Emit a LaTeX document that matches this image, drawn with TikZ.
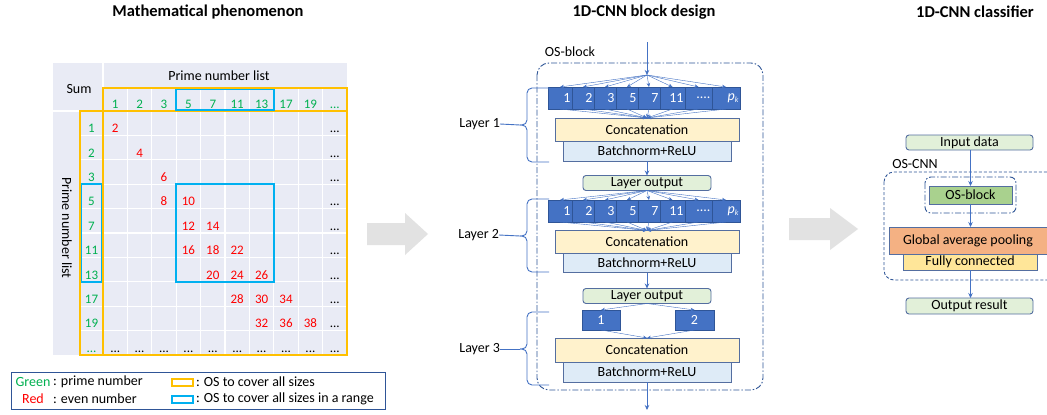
\documentclass[tikz,border=0pt]{standalone}
\usepackage{fontspec}
\setmainfont{Carlito}
\usetikzlibrary{arrows.meta}
\definecolor{tblbg}{RGB}{233,235,245}
\definecolor{pgreen}{RGB}{0,176,80}
\definecolor{pred}{RGB}{255,0,0}
\definecolor{osorange}{RGB}{255,192,0}
\definecolor{osblue}{RGB}{0,176,240}
\definecolor{convfill}{RGB}{68,114,196}
\definecolor{convdraw}{RGB}{47,85,151}
\definecolor{boxdraw}{RGB}{84,110,160}
\definecolor{concatfill}{RGB}{255,242,204}
\definecolor{bnfill}{RGB}{222,235,247}
\definecolor{outfill}{RGB}{226,240,217}
\definecolor{osfill}{RGB}{169,209,142}
\definecolor{gapfill}{RGB}{244,177,131}
\definecolor{fcfill}{RGB}{255,230,153}
\definecolor{framecol}{RGB}{47,85,151}
\definecolor{arrowgrey}{RGB}{226,226,226}
\definecolor{lineblue}{RGB}{68,114,196}
\newcommand{\fsA}{\fontsize{14}{16}\selectfont}
\newcommand{\fsT}{\fontsize{13}{15}\selectfont}
\newcommand{\fsH}{\fontsize{16.5}{19}\selectfont\bfseries}
\newcommand{\pk}{\textit{p}\raisebox{-0.35ex}{\fontsize{8}{9}\selectfont\textit{k}}}
\newcommand{\dotsA}{...}
\newcommand{\dotsB}{....}
\begin{document}
\begin{tikzpicture}[x=1pt,y=-1pt,
  every node/.style={inner sep=0pt, outer sep=0pt},
  body/.style={font=\fsA},
  title/.style={font=\fsH},
  tnum/.style={font=\fsT, text height=9pt, text depth=2.5pt},
  conv/.style={draw=convdraw, fill=convfill, line width=0.6pt, text=white, font=\fsA, align=right, inner xsep=1.5pt},
  cbox/.style={draw=boxdraw, line width=0.9pt, font=\fsA, align=center},
  obox/.style={cbox, rounded corners=3pt, fill=outfill},
  fan/.style={draw=lineblue, line width=0.4pt, -{Stealth[length=4pt,width=3.5pt]}},
  arr/.style={draw=lineblue, line width=0.7pt, -{Stealth[length=5pt,width=4.5pt]}},
  bracepath/.style={draw=lineblue, line width=0.9pt, rounded corners=5pt},
  dashdot/.style={draw=framecol, line width=0.9pt, dash pattern=on 6pt off 2pt on 1.5pt off 2pt},
]
\useasboundingbox (0,0) rectangle (1047,415);
\fill[white] (0,0) rectangle (1047,415);

% ---------- titles ----------
\node[title] (t1) at (208,12) {Mathematical phenomenon};
\node[title] (t2) at (644,12) {1D-CNN block design};
\node[title] (t3) at (975,12) {1D-CNN classifier};

% ---------- table ----------
\fill[tblbg] (53,63) rectangle (347,355);
\draw[white, line width=1.3pt] (53,111) -- (347,111);
\draw[white, line width=1.3pt] (103,63) -- (103,111);
\foreach \i in {1,2,3,4,5,6,7,8,9} {
  \draw[white, line width=1.3pt] ({103+24.4*\i},88) -- ({103+24.4*\i},355);
  \draw[white, line width=1.3pt] (80,{111+24.4*\i}) -- (347,{111+24.4*\i});
}
\node[body] (sum) at (79,89) {Sum};
\node[body] (pnl) at (219,76) {Prime number list};
\node[body, rotate=-90] (pnl2) at (67,228) {Prime number list};
\foreach \v [count=\i from 0] in {1,2,3,5,7,11,13,17,19,\dotsA} {
  \node[tnum, text=pgreen] (h\i) at ({115.2+24.4*\i},105) {\v};
  \node[tnum, text=pgreen] (r\i) at (91.5,{129.5+24.4*\i}) {\v};
}
\foreach \c/\r/\v in {0/0/2,1/1/4,2/2/6,2/3/8,3/3/10,3/4/12,4/4/14,3/5/16,4/5/18,5/5/22,4/6/20,5/6/24,6/6/26,5/7/28,6/7/30,7/7/34,6/8/32,7/8/36,8/8/38} {
  \node[tnum, text=pred] (s\c x\r) at ({115.2+24.4*\c},{129.5+24.4*\r}) {\v};
}
\foreach \r in {0,1,2,3,4,5,6,7,8} {
  \node[tnum] (d\r) at (334.8,{129.5+24.4*\r}) {\dotsA};
}
\foreach \c in {0,1,2,3,4,5,6,7,8,9} {
  \node[tnum] (e\c) at ({115.2+24.4*\c},349) {\dotsA};
}
% OS boxes
\draw[osorange, line width=1.6pt] (103,88) rectangle (347,355);
\draw[osorange, line width=1.6pt] (103,111) -- (347,111);
\draw[osorange, line width=1.6pt] (80,111) rectangle (103,355);
\draw[osblue, line width=1.6pt] (176.2,89.5) rectangle (273.8,110);
\draw[osblue, line width=1.6pt] (81.5,184.2) rectangle (101.5,281.8);
\draw[osblue, line width=1.6pt] (176.2,184.2) rectangle (273.8,281.8);

% legend
\draw[framecol, line width=0.8pt] (11,372) rectangle (385,409);
\node[body, text=pgreen] (lgG) at (33,382) {Green};
\node[body, anchor=west] (lgGt) at (53,382) {: prime number};
\node[body, text=pred] (lgR) at (33,399) {Red};
\node[body, anchor=west] (lgRt) at (53,399) {: even number};
\draw[osorange, line width=1.6pt] (172,379) rectangle (193,386);
\node[body, anchor=west] (lgO) at (196,382) {: OS to cover all sizes};
\draw[osblue, line width=1.6pt] (172,396) rectangle (193,403);
\node[body, anchor=west] (lgB) at (196,399) {: OS to cover all sizes in a range};

% ---------- grey arrows ----------
\fill[arrowgrey] (367,223) -- (405,223) -- (405,213) -- (428,234) -- (405,255) -- (405,245) -- (367,245) -- cycle;
\fill[arrowgrey] (789,218) -- (830,218) -- (830,208) -- (858,229) -- (830,250) -- (830,240) -- (789,240) -- cycle;

% ---------- OS-block design ----------
\draw[dashdot, rounded corners=12pt] (537,63) rectangle (763,390);
\node[body] (oslbl) at (570,52) {OS-block};

\coordinate (inTop) at (647,42);
\coordinate (inTip) at (647,75);
\coordinate (outEnd) at (647,410);

% layer 1 conv row
\foreach \l/\r/\t [count=\k] in {548/572/1,572/594/2,594/616/3,616/638/5,638/660/7,660/685/11,685/712/\dotsB,712/740/\pk} {
  \pgfmathsetmacro\tw{\r-\l-3}
  \node[conv, text width=\tw pt, minimum height=22pt] (a\k) at ({(\l+\r)/2},98) {\t};
}
\node[cbox, fill=concatfill, minimum width=184pt, minimum height=23pt] (cc1) at (647,129.5) {Concatenation};
\node[cbox, fill=bnfill, minimum width=168pt, minimum height=20pt] (bn1) at (647,151) {Batchnorm+ReLU};
\node[obox, minimum width=128pt, minimum height=15pt] (lo1) at (647,183) {Layer output};

% layer 2 conv row
\foreach \l/\r/\t [count=\k] in {548/572/1,572/594/2,594/616/3,616/638/5,638/660/7,660/685/11,685/712/\dotsB,712/740/\pk} {
  \pgfmathsetmacro\tw{\r-\l-3}
  \node[conv, text width=\tw pt, minimum height=22pt] (b\k) at ({(\l+\r)/2},211) {\t};
}
\node[cbox, fill=concatfill, minimum width=184pt, minimum height=23pt] (cc2) at (647,242) {Concatenation};
\node[cbox, fill=bnfill, minimum width=168pt, minimum height=19pt] (bn2) at (647,263) {Batchnorm+ReLU};
\node[obox, minimum width=128pt, minimum height=15pt] (lo2) at (647,296) {Layer output};

% layer 3
\node[conv, align=center, minimum width=38pt, minimum height=20pt] (c1) at (601,320) {1};
\node[conv, align=center, minimum width=39pt, minimum height=20pt] (c2) at (694.5,320) {2};
\node[cbox, fill=concatfill, minimum width=184pt, minimum height=24pt] (cc3) at (647,350) {Concatenation};
\node[cbox, fill=bnfill, minimum width=168pt, minimum height=20pt] (bn3) at (647,372) {Batchnorm+ReLU};

% arrows
\draw[arr] (inTop) -- (inTip);
\foreach \k in {1,2,3,4,5,6,7,8} {
  \draw[fan] (inTip) -- (a\k.north);
  \draw[fan] (a\k.south) -- (cc1.north);
  \draw[fan] (lo1.south) -- (b\k.north);
  \draw[fan] (b\k.south) -- (cc2.north);
}
\draw[arr] (bn1.south) -- (lo1.north);
\draw[arr] (bn2.south) -- (lo2.north);
\draw[fan] (lo2.south) -- (c1.north);
\draw[fan] (lo2.south) -- (c2.north);
\draw[fan] (c1.south) -- (cc3.north);
\draw[fan] (c2.south) -- (cc3.north);
\draw[arr] (bn3.south) -- (outEnd);

% braces and layer labels
\node[body, anchor=east] (L1) at (500,124) {Layer 1};
\coordinate (br1) at (520,125);
\draw[bracepath] (549,88) -- (527,88) -- (527,125) -- (br1);
\draw[bracepath] (br1) -- (527,125) -- (527,162) -- (549,162);
\draw[draw=lineblue, line width=0.9pt] (L1.east) -- (br1);

\node[body, anchor=east] (L2) at (499,235) {Layer 2};
\coordinate (br2) at (520,236);
\draw[bracepath] (549,199) -- (527,199) -- (527,236) -- (br2);
\draw[bracepath] (br2) -- (527,236) -- (527,272) -- (549,272);
\draw[draw=lineblue, line width=0.9pt] (L2.east) -- (br2);

\node[body, anchor=east] (L3) at (500,349) {Layer 3};
\coordinate (br3) at (520,349);
\draw[bracepath] (549,312) -- (527,312) -- (527,349) -- (br3);
\draw[bracepath] (br3) -- (527,349) -- (527,385) -- (549,385);
\draw[draw=lineblue, line width=0.9pt] (L3.east) -- (br3);

% ---------- classifier ----------
\draw[draw=framecol, line width=0.9pt, dash pattern=on 3pt off 2pt, rounded corners=10pt] (884,172) rectangle (1064,280);
\node[body] (oscnn) at (915,164) {OS-CNN};
\draw[dashdot, rounded corners=6pt] (925,177) rectangle (1016,213);
\node[obox, minimum width=127pt, minimum height=15pt] (ind) at (969.5,142.5) {Input data};
\node[cbox, fill=osfill, minimum width=83pt, minimum height=18pt] (osb) at (970.5,195) {OS-block};
\node[cbox, fill=gapfill, minimum width=158pt, minimum height=27pt] (gap) at (968,240.5) {Global average pooling};
\node[cbox, fill=fcfill, minimum width=134pt, minimum height=16pt] (fc) at (970,262) {Fully connected};
\node[obox, minimum width=127pt, minimum height=16pt] (outr) at (969.5,306) {Output result};
\draw[arr] (ind.south -| osb.north) -- (osb.north);
\draw[arr] (osb.south) -- (osb.south |- gap.north);
\draw[arr] (fc.south -| osb.south) -- (outr.north -| osb.south);
\end{tikzpicture}
\end{document}
